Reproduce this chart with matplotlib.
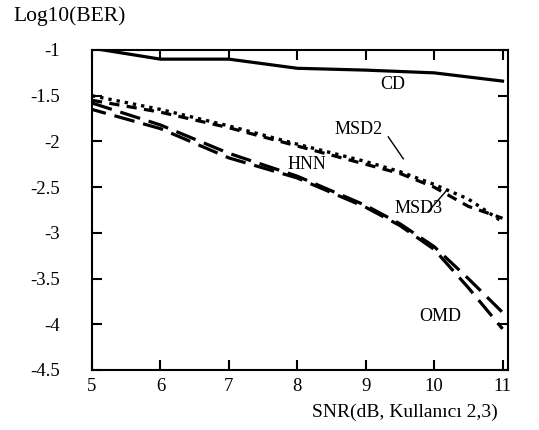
import matplotlib.pyplot as plt
import numpy as np

plt.rcParams['font.family'] = ['Liberation Serif', 'DejaVu Serif']

snr = [5, 6, 7, 8, 9, 9.5, 10, 10.5, 11]
snr_cd = [5, 6, 7, 8, 9, 10, 11]

ber_cd = [-0.98, -1.1, -1.1, -1.2, -1.22, -1.25, -1.34]
ber_msd2 = [-1.5, -1.65, -1.83, -2.03, -2.22, -2.33, -2.47, -2.63, -2.88]
ber_msd3 = [-1.55, -1.68, -1.85, -2.05, -2.25, -2.35, -2.5, -2.71, -2.84]
ber_hnn = [-1.58, -1.82, -2.13, -2.38, -2.7, -2.9, -3.15, -3.5, -3.87]
ber_omd = [-1.65, -1.86, -2.18, -2.4, -2.72, -2.92, -3.18, -3.6, -4.05]

xticks = [5, 6, 7, 8, 9, 10, 11]
yticks = [-1, -1.5, -2, -2.5, -3, -3.5, -4, -4.5]

fig = plt.figure(figsize=(5.39, 4.30), dpi=100)
ax = fig.add_axes([92 / 539, 1 - 370 / 430, 416 / 539, 320 / 430])

ax.plot(snr_cd, ber_cd, color='k', lw=2.3, linestyle='-')
ax.plot(snr, ber_msd2, color='k', lw=2.4, linestyle=(0, (1.0, 1.5)))
ax.plot(snr, ber_msd3, color='k', lw=2.3, linestyle=(0, (3.2, 2.3)))
ax.plot(snr, ber_hnn, color='k', lw=2.3, linestyle=(0, (6.5, 2.8)))
ax.plot(snr, ber_omd, color='k', lw=2.3, linestyle=(2, (6.5, 2.8)))

ax.set_xlim(5, 11.08)
ax.set_ylim(-4.5, -1)
ax.set_xticks(xticks)
ax.set_xticklabels([str(v) for v in xticks])
ax.set_yticks(yticks)
ax.set_yticklabels([f"{v:g}" for v in yticks])

ax.tick_params(axis='both', direction='in', top=True, right=True,
               length=7, width=1.5, labelsize=13.5)
ax.tick_params(axis='y', pad=23)
ax.tick_params(axis='x', pad=6)
for s in ax.spines.values():
    s.set_linewidth(1.5)

# curve labels
ax.text(9.4, -1.38, 'CD', fontsize=13, ha='center', va='center')
ax.text(8.9, -1.87, 'MSD2', fontsize=13, ha='center', va='center')
ax.text(8.14, -2.25, 'HNN', fontsize=13, ha='center', va='center')
ax.text(9.78, -2.73, 'MSD3', fontsize=13, ha='center', va='center')
ax.text(10.09, -3.92, 'OMD', fontsize=13, ha='center', va='center')
ax.plot([9.33, 9.55], [-1.95, -2.19], color='k', lw=1.0)
ax.plot([9.91, 10.19], [-2.77, -2.53], color='k', lw=1.0)

fig.text(13 / 539, 1 - 16 / 430, 'Log10(BER)', fontsize=15.5, ha='left', va='center')
fig.text(498 / 539, 1 - 412 / 430, 'SNR(dB, Kullanıcı 2,3)', fontsize=14,
         ha='right', va='center')

fig.savefig('out.png', dpi=100, facecolor='white')
